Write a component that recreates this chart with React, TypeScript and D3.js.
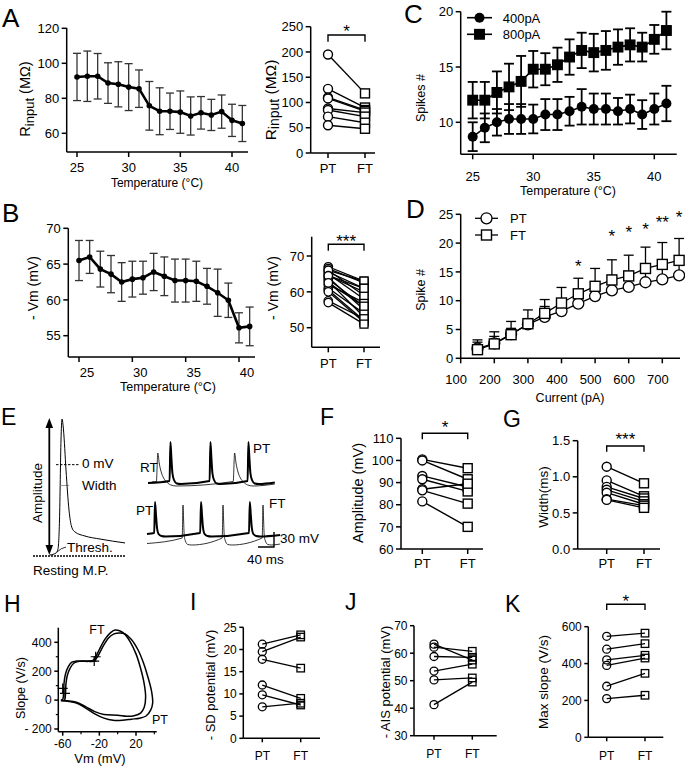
import React from "react";
import * as d3 from "d3";

const FONT = "'Liberation Sans', Arial, Helvetica, sans-serif";

// ---------- Panel A ----------
const tempA = [25, 26, 27, 28, 29, 30, 31, 32, 33, 34, 35, 36, 37, 38, 39, 40, 41];
const tempTicks = [25, 30, 35, 40];
const rinMean = [92.2, 92.6, 92.6, 88.7, 88.0, 86.4, 85.5, 75.7, 72.6, 72.6, 72.1, 69.9, 71.7, 70.5, 72.4, 67.4, 65.6];
const rinErr = [13.5, 14.4, 13, 11.6, 12.9, 13.4, 10.7, 13.9, 13.4, 10.4, 12.1, 10.9, 9.3, 8.9, 9.5, 9.2, 10.3];
const rinTicks = [60, 80, 100, 120];
const rinPT = [195, 127, 110, 108, 88, 85, 72, 55];
const rinFT = [118, 90, 85, 83, 80, 72, 60, 48];
const rinPairTicks = [0, 50, 100, 150, 200, 250];

// ---------- Panel B ----------
const vmMean = [65.5, 66.0, 64.3, 63.6, 62.5, 62.9, 63.1, 63.9, 63.3, 62.7, 62.7, 62.6, 61.9, 61.0, 59.95, 56.1, 56.3];
const vmErr = [2.8, 2.3, 2.5, 2.6, 2.7, 2.5, 2.3, 2.6, 2.7, 3.0, 3.0, 2.8, 2.5, 3.3, 2.4, 2.1, 2.7];
const vmTicks = [55, 60, 65, 70];
const vmPT = [67, 66.5, 66, 65.5, 65, 64.5, 64, 63.5, 63, 62, 61, 60.5, 60, 57.5, 57, 66, 64.5, 62.5];
const vmFT = [63, 62.5, 63, 61, 58, 60, 55, 56, 53, 57, 54, 52, 51.5, 52.5, 51, 59, 61, 56];
const vmPairTicks = [50, 60, 70];

// ---------- Panel C ----------
const spikes400 = [8.7, 9.5, 10.0, 10.3, 10.3, 10.3, 10.7, 10.7, 11.0, 11.4, 11.2, 11.2, 11.0, 11.2, 10.7, 11.2, 11.7];
const spikes400Err = [1.3, 1.3, 1.2, 1.35, 1.35, 1.3, 1.4, 1.4, 1.3, 1.6, 1.4, 1.4, 1.2, 1.3, 1.3, 1.4, 1.6];
const spikes800 = [12.0, 12.0, 12.7, 13.2, 13.7, 14.8, 14.8, 15.2, 15.9, 16.5, 16.3, 16.5, 16.8, 17.0, 16.8, 17.5, 18.3];
const spikes800Err = [1.65, 1.65, 1.9, 2.1, 2.3, 1.65, 1.45, 1.55, 1.6, 1.6, 1.7, 1.75, 1.6, 1.5, 1.3, 1.3, 1.7];
const spikeTicks = [10, 15, 20];

// ---------- Panel D ----------
const currents = [150, 200, 250, 300, 350, 400, 450, 500, 550, 600, 650, 700, 750];
const currentTicks = [100, 200, 300, 400, 500, 600, 700];
const dPT = [1.7, 2.6, 4.2, 5.9, 7.2, 8.2, 9.5, 10.8, 11.8, 12.4, 13.2, 13.7, 14.4];
const dPTErr = [1.1, 1.2, 1.0, 1.0, 1.8, 2.0, 2.2, 2.4, 2.6, 2.7, 2.8, 2.9, 3.0];
const dFT = [1.5, 2.5, 4.1, 6.0, 7.8, 9.6, 11.2, 12.5, 13.6, 14.3, 15.6, 16.3, 17.0];
const dFTErr = [1.7, 2.1, 2.3, 2.4, 2.4, 2.7, 2.7, 3.1, 3.5, 3.6, 3.7, 3.8, 3.8];
const dTicks = [0, 5, 10, 15, 20, 25];
const dStarCurrents = [450, 550, 600, 650, 700, 750];
const dStarLabels = ["*", "*", "*", "*", "**", "*"];
const dStarValues = [16.6, 21.9, 22.6, 23.1, 24.2, 25.1];

// ---------- Panel E (trace templates, ms / mV) ----------
const eApT = [0, 6, 8, 9.5, 11, 12, 13.5, 16, 19, 21.7, 25, 35, 50, 75];
const eApV = [-69.2, -67.7, -64.6, -42.4, 18.9, 35, 26.6, -4.1, -34.8, -47.8, -51.6, -54.7, -57, -60];
const topThickT = [0, 2, 4.5, 7, 11, 18, 28];
const topThickV = [-56, 22, -10, -40, -54, -61, -62];
const topThickOnsets = [54, 154, 249];
const topThinT = [0, 3.5, 7, 12, 18, 26, 36, 50];
const topThinV = [-57, 0, -20, -38, -50, -58, -64, -66];
const topThinOnsets = [21, 213];
const botThickT = [0, 2, 4.5, 7, 11, 18, 28];
const botThickV = [-46, 16, -10, -35, -48, -52, -53];
const botThickOnsets = [18, 133, 255];
const botThinT = [0, 2, 3.5, 5, 8, 14, 24];
const botThinV = [-56, 10, -20, -50, -62, -69, -70];
const botThinOnsets = [88, 188, 288];

// ---------- Panel F / G ----------
const ampPT = [100.5, 100, 93, 91.5, 87, 86.5, 81.5];
const ampFT = [96.5, 91.5, 88, 86, 89.5, 80.5, 70];
const ampTicks = [60, 70, 80, 90, 100, 110];
const widthPT = [1.14, 0.95, 0.86, 0.82, 0.78, 0.69, 0.68];
const widthFT = [0.91, 0.73, 0.7, 0.66, 0.62, 0.6, 0.57];
const widthTicks = [0, 0.5, 1.0, 1.5];

// ---------- Panel H (phase plots: Vm mV, slope V/s) ----------
const hFTVm = [-62, -60, -59, -58.5, -57, -54, -50, -45, -35, -27, -24, -20, -14, -8, -3, 2, 8, 14, 20, 25, 29, 30.5, 29, 25, 18, 10, 0, -15, -25, -35, -45, -55, -62];
const hFTSlope = [0, 5, 50, 120, 180, 230, 262, 270, 270, 275, 300, 350, 420, 465, 485, 480, 455, 400, 320, 220, 110, 20, -50, -90, -108, -112, -105, -100, -80, -45, -15, -5, -2];
const hPTVm = [-62, -58, -57, -56.5, -55, -52, -48, -42, -32, -26, -22, -17, -10, -4, 2.5, 8, 15, 22, 28, 33, 37, 38.2, 36, 31, 24, 15, 5, -5, -15, -25, -35, -45, -55, -62];
const hPTSlope = [-3, 0, 40, 110, 170, 220, 255, 268, 268, 270, 300, 360, 430, 458, 464, 458, 420, 350, 260, 160, 60, -20, -70, -110, -125, -132, -140, -140, -125, -95, -55, -20, -8, -3];
const hCrossVm = [-60, -57.5, -24, -25.6];
const hCrossSlope = [81, 46, 300, 270];
const hYTicks = [-200, 0, 200, 400];
const hYMinor = [-100, 100, 300];
const hXTicks = [-60, -20, 20];
const hXMinor = [-40, 0, 40];

// ---------- Panel I / J / K ----------
const sdPT = [21.2, 19.5, 17.8, 12, 9.8, 7.1];
const sdFT = [23.3, 22.8, 15.8, 9, 7.5, 7.9];
const sdTicks = [0, 5, 10, 15, 20, 25];
const aisPT = [63.3, 62.2, 58.8, 53.5, 50.3, 41.3];
const aisFT = [57.5, 60.7, 58.5, 56, 51, 49.5];
const aisTicks = [30, 40, 50, 60, 70];
const msPT = [548, 478, 420, 390, 277, 210];
const msFT = [565, 508, 445, 430, 347, 228];
const msTicks = [0, 200, 400, 600];

// ================= helpers =================
function YAxis({ x, top, bottom, scale, ticks, fmt, fs = 13, tick = 5, sw = 1.5 }: any) {
  return (
    <g>
      <line x1={x} x2={x} y1={top} y2={bottom} stroke="#000" strokeWidth={sw} />
      {ticks.map((t: number) => (
        <g key={t}>
          <line x1={x - tick} x2={x} y1={scale(t)} y2={scale(t)} stroke="#000" strokeWidth={sw} />
          <text x={x - tick - 2.5} y={scale(t) + fs * 0.36} textAnchor="end" fontSize={fs}>
            {fmt ? fmt(t) : String(t)}
          </text>
        </g>
      ))}
    </g>
  );
}

function XAxis({ y, left, right, positions, labels, fs = 13, tick = 5, labelY, sw = 1.5, dx = 0 }: any) {
  return (
    <g>
      <line x1={left} x2={right} y1={y} y2={y} stroke="#000" strokeWidth={sw} />
      {positions.map((p: number, i: number) => (
        <g key={i}>
          <line x1={p} x2={p} y1={y} y2={y + tick} stroke="#000" strokeWidth={sw} />
          <text x={p + dx} y={labelY} textAnchor="middle" fontSize={fs}>
            {labels[i]}
          </text>
        </g>
      ))}
    </g>
  );
}

function YTitle({ x, y, children, fs = 13 }: any) {
  return (
    <text transform={`translate(${x},${y}) rotate(-90)`} textAnchor="middle" dominantBaseline="central" fontSize={fs}>
      {children}
    </text>
  );
}

function ErrBars({ xs, means, errs, xs2, y, cap = 8, color = "#000", sw = 1.3, upOnly = false }: any) {
  return (
    <g stroke={color} strokeWidth={sw}>
      {means.map((m: number, i: number) => {
        const x = xs2(xs[i]);
        const hi = y(m + errs[i]);
        const lo = upOnly ? y(m) : y(m - errs[i]);
        return (
          <g key={i}>
            <line x1={x} x2={x} y1={hi} y2={lo} />
            <line x1={x - cap / 2} x2={x + cap / 2} y1={hi} y2={hi} />
            {!upOnly && <line x1={x - cap / 2} x2={x + cap / 2} y1={lo} y2={lo} />}
          </g>
        );
      })}
    </g>
  );
}

function Paired({ y, xPT, xFT, pt, ft, r = 4.5, sq = 9, sw = 1.4, fill = "#fff" }: any) {
  return (
    <g>
      {pt.map((v: number, i: number) => (
        <line key={"l" + i} x1={xPT} y1={y(v)} x2={xFT} y2={y(ft[i])} stroke="#000" strokeWidth={sw} />
      ))}
      {pt.map((v: number, i: number) => (
        <circle key={"c" + i} cx={xPT} cy={y(v)} r={r} fill={fill} stroke="#000" strokeWidth={sw} />
      ))}
      {ft.map((v: number, i: number) => (
        <rect key={"s" + i} x={xFT - sq / 2} y={y(v) - sq / 2} width={sq} height={sq} fill={fill} stroke="#000" strokeWidth={sw} />
      ))}
    </g>
  );
}

function Bracket({ x1, x2, top, leg, label, starY, fs = 17 }: any) {
  return (
    <g>
      <path d={`M${x1},${leg}V${top}H${x2}V${leg}`} fill="none" stroke="#000" strokeWidth={1.4} />
      <text x={(x1 + x2) / 2} y={starY + fs * 0.57} textAnchor="middle" fontSize={fs}>
        {label}
      </text>
    </g>
  );
}

function Letter({ x, y, t, fs = 26 }: any) {
  return (
    <text x={x} y={y} fontSize={fs}>
      {t}
    </text>
  );
}

function buildTrain(startT: number, startV: number, onsets: number[], tT: number[], tV: number[], endT: number, endV: number) {
  const pts: [number, number][] = [[startT, startV]];
  onsets.forEach((o) => tT.forEach((t, i) => pts.push([o + t, tV[i]])));
  pts.push([endT, endV]);
  return pts;
}

// ================= App =================
export default function App() {
  const xA = d3.scaleLinear().domain([25, 40]).range([77, 232]);
  const yA = d3.scaleLinear().domain([60, 120]).range([133.3, 28.3]);
  const yAr = d3.scaleLinear().domain([0, 250]).range([153, 26.7]);
  const lineA = d3.line<number>().x((_, i) => xA(tempA[i])).y((d) => yA(d));

  const xB = d3.scaleLinear().domain([25, 40]).range([79, 239]);
  const yB = d3.scaleLinear().domain([55, 70]).range([335.7, 228.3]);
  const yBr = d3.scaleLinear().domain([50, 70]).range([327.7, 256]);
  const lineB = d3.line<number>().x((_, i) => xB(tempA[i])).y((d) => yB(d));

  const xC = d3.scaleLinear().domain([25, 40]).range([472.7, 654.3]);
  const yC = d3.scaleLinear().domain([10, 20]).range([122.3, 11.7]);
  const lineC = d3.line<number>().x((_, i) => xC(tempA[i])).y((d) => yC(d));

  const xD = d3.scaleLinear().domain([100, 700]).range([460.7, 662.3]);
  const yD = d3.scaleLinear().domain([0, 25]).range([358.3, 214.3]);
  const lineD = d3.line<number>().x((_, i) => xD(currents[i])).y((d) => yD(d));

  const xE = d3.scaleLinear().domain([0, 75]).range([50, 125]);
  const yE = d3.scaleLinear().domain([-70, 35]).range([556, 419]);
  const apPts = eApT.map((t, i) => [t, eApV[i]] as [number, number]);
  const lineE = d3.line<[number, number]>().x((d) => xE(d[0])).y((d) => yE(d[1])).curve(d3.curveMonotoneX);
  const xTop = d3.scaleLinear().domain([0, 100]).range([148, 188]);
  const yTop = d3.scaleLinear().domain([-60, 0]).range([483, 453]);
  const xBot = d3.scaleLinear().domain([0, 100]).range([147, 187]);
  const yBot = d3.scaleLinear().domain([-60, 0]).range([540, 510]);
  const lineTop = d3.line<[number, number]>().x((d) => xTop(d[0])).y((d) => yTop(d[1])).curve(d3.curveMonotoneX);
  const lineBot = d3.line<[number, number]>().x((d) => xBot(d[0])).y((d) => yBot(d[1])).curve(d3.curveMonotoneX);
  const topThick = buildTrain(0, -60, topThickOnsets, topThickT, topThickV, 317, -59);
  const topThin = buildTrain(10, -58, topThinOnsets, topThinT, topThinV, 317, -62);
  const botThick = buildTrain(0, -48, botThickOnsets, botThickT, botThickV, 333, -50);
  const botThin = buildTrain(0, -67, botThinOnsets, botThinT, botThinV, 333, -68);

  const yF = d3.scaleLinear().domain([60, 110]).range([549, 438.3]);
  const yG = d3.scaleLinear().domain([0, 1.5]).range([549, 440.7]);

  const xH = d3.scaleLinear().domain([-60, 20]).range([62.7, 136]);
  const yH = d3.scaleLinear().domain([-200, 400]).range([729, 642.3]);
  const lineH = d3.line<[number, number]>().x((d) => xH(d[0])).y((d) => yH(d[1])).curve(d3.curveCatmullRom.alpha(0.5));
  const ftLoop = hFTVm.map((v, i) => [v, hFTSlope[i]] as [number, number]);
  const ptLoop = hPTVm.map((v, i) => [v, hPTSlope[i]] as [number, number]);

  const yI = d3.scaleLinear().domain([0, 25]).range([738.3, 627.3]);
  const yJ = d3.scaleLinear().domain([30, 70]).range([735.7, 625.7]);
  const yK = d3.scaleLinear().domain([0, 600]).range([737.3, 626.7]);

  const sq = (x: number, y: number, s: number, fill: string, key: any) => (
    <rect key={key} x={x - s / 2} y={y - s / 2} width={s} height={s} fill={fill} stroke="#000" strokeWidth={1.4} />
  );

  return (
    <svg
      width={685}
      height={768}
      viewBox="0 0 685 768"
      style={{ position: "absolute", left: 0, top: 0, background: "#fff", fontFamily: FONT }}
      fill="#000"
    >
      <rect x={0} y={0} width={685} height={768} fill="#fff" />

      {/* ---------- A ---------- */}
      <Letter x={2} y={27} t="A" />
      <YAxis x={66.7} top={28} bottom={152} scale={yA} ticks={rinTicks} />
      <XAxis y={152} left={66.7} right={248} positions={tempTicks.map((t) => xA(t))} labels={tempTicks} labelY={171.5} />
      <text x={157} y={187} textAnchor="middle" fontSize={12}>Temperature (°C)</text>
      <YTitle x={25} y={99} fs={14.5}>
        R<tspan dy={3.5} fontSize={13}>input</tspan>
        <tspan dy={-3.5}> (MΩ)</tspan>
      </YTitle>
      <ErrBars xs={tempA} means={rinMean} errs={rinErr} xs2={xA} y={yA} cap={8} color="#333" sw={1.3} />
      <path d={lineA(rinMean) || ""} fill="none" stroke="#000" strokeWidth={2.6} />
      {rinMean.map((m, i) => (
        <circle key={i} cx={xA(tempA[i])} cy={yA(m)} r={2.8} fill="#000" />
      ))}

      <YAxis x={310.7} top={26.7} bottom={153} scale={yAr} ticks={rinPairTicks} />
      <XAxis y={153} left={310.7} right={375} positions={[328, 365]} labels={["PT", "FT"]} labelY={172.5} />
      <YTitle x={270} y={100} fs={15.5}>
        R<tspan dy={3.5} fontSize={14}>input</tspan>
        <tspan dy={-3.5}> (MΩ)</tspan>
      </YTitle>
      <Paired y={yAr} xPT={328} xFT={365} pt={rinPT} ft={rinFT} />
      <Bracket x1={328} x2={365} top={35} leg={41.7} label="*" starY={27} />

      {/* ---------- C ---------- */}
      <Letter x={404} y={23} t="C" />
      <YAxis x={460.7} top={11.7} bottom={154.3} scale={yC} ticks={spikeTicks} />
      <XAxis y={154.3} left={460.7} right={676.7} positions={tempTicks.map((t) => xC(t))} labels={tempTicks} labelY={180.5} />
      <text x={568} y={195} textAnchor="middle" fontSize={12.5}>Temperature (°C)</text>
      <YTitle x={421} y={98} fs={12.5}>Spikes #</YTitle>
      <ErrBars xs={tempA} means={spikes800} errs={spikes800Err} xs2={xC} y={yC} cap={10} sw={1.8} />
      <ErrBars xs={tempA} means={spikes400} errs={spikes400Err} xs2={xC} y={yC} cap={10} sw={1.8} />
      <path d={lineC(spikes800) || ""} fill="none" stroke="#000" strokeWidth={1.6} />
      <path d={lineC(spikes400) || ""} fill="none" stroke="#000" strokeWidth={1.6} />
      {spikes800.map((m, i) => sq(xC(tempA[i]), yC(m), 9.5, "#000", "c8" + i))}
      {spikes400.map((m, i) => (
        <circle key={"c4" + i} cx={xC(tempA[i])} cy={yC(m)} r={5} fill="#000" />
      ))}
      <line x1={467} x2={492} y1={17.7} y2={17.7} stroke="#000" strokeWidth={1.6} />
      <circle cx={479.5} cy={17.7} r={5} fill="#000" />
      <text x={502.7} y={22.5} fontSize={13}>400pA</text>
      <line x1={467} x2={492} y1={34.3} y2={34.3} stroke="#000" strokeWidth={1.6} />
      {sq(479.5, 34.3, 9.5, "#000", "legsq")}
      <text x={502.7} y={39.1} fontSize={13}>800pA</text>

      {/* ---------- B ---------- */}
      <Letter x={2} y={222} t="B" />
      <YAxis x={68.3} top={228.3} bottom={357} scale={yB} ticks={vmTicks} />
      <XAxis y={357} left={68.3} right={255} positions={tempTicks.map((t) => xB(t))} labels={tempTicks} labelY={376.5} dx={8} />
      <text x={168} y={391} textAnchor="middle" fontSize={12.5}>Temperature (°C)</text>
      <YTitle x={33} y={288} fs={14}>- Vm (mV)</YTitle>
      <ErrBars xs={tempA} means={vmMean} errs={vmErr} xs2={xB} y={yB} cap={8} color="#333" sw={1.3} />
      <path d={lineB(vmMean) || ""} fill="none" stroke="#000" strokeWidth={2.6} />
      {vmMean.map((m, i) => (
        <circle key={i} cx={xB(tempA[i])} cy={yB(m)} r={2.8} fill="#000" />
      ))}

      <YAxis x={311.7} top={236.7} bottom={347.3} scale={yBr} ticks={vmPairTicks} />
      <XAxis y={347.3} left={311.7} right={380} positions={[328.3, 364]} labels={["PT", "FT"]} labelY={367.5} />
      <YTitle x={273} y={288} fs={14}>- Vm (mV)</YTitle>
      <Paired y={yBr} xPT={328.3} xFT={364} pt={vmPT} ft={vmFT} r={4.2} sq={8} sw={1.3} />
      <Bracket x1={328.3} x2={364} top={244.3} leg={250.7} label="***" starY={237.7} />

      {/* ---------- D ---------- */}
      <Letter x={406} y={218} t="D" />
      <YAxis x={460.7} top={214.3} bottom={358.3} scale={yD} ticks={dTicks} />
      <XAxis y={358.3} left={460.7} right={680} positions={currentTicks.map((t) => xD(t))} labels={currentTicks} labelY={383.5} dx={-4.5} />
      <text x={570} y={402} textAnchor="middle" fontSize={12.5}>Current  (pA)</text>
      <YTitle x={421} y={290} fs={12.5}>Spike #</YTitle>
      <ErrBars xs={currents} means={dPT} errs={dPTErr} xs2={xD} y={yD} cap={10} sw={1.3} upOnly />
      <ErrBars xs={currents} means={dFT} errs={dFTErr} xs2={xD} y={yD} cap={10} sw={1.3} upOnly />
      <path d={lineD(dPT) || ""} fill="none" stroke="#000" strokeWidth={1.3} />
      <path d={lineD(dFT) || ""} fill="none" stroke="#000" strokeWidth={1.3} />
      {dPT.map((m, i) => (
        <circle key={"dp" + i} cx={xD(currents[i])} cy={yD(m)} r={5.5} fill="#fff" stroke="#000" strokeWidth={1.3} />
      ))}
      {dFT.map((m, i) => sq(xD(currents[i]), yD(m), 10, "#fff", "df" + i))}
      {dStarCurrents.map((c, i) => (
        <text key={"ds" + i} x={xD(c)} y={yD(dStarValues[i]) + 9.5} textAnchor="middle" fontSize={17}>
          {dStarLabels[i]}
        </text>
      ))}
      <line x1={475} x2={498} y1={218.3} y2={218.3} stroke="#000" strokeWidth={1.3} />
      <circle cx={486.5} cy={218.3} r={5.5} fill="#fff" stroke="#000" strokeWidth={1.3} />
      <text x={510} y={223} fontSize={13}>PT</text>
      <line x1={475} x2={498} y1={235} y2={235} stroke="#000" strokeWidth={1.3} />
      {sq(486.5, 235, 10, "#fff", "dleg")}
      <text x={510} y={239.7} fontSize={13}>FT</text>

      {/* ---------- E ---------- */}
      <Letter x={1} y={425} t="E" fs={23} />
      <line x1={49.3} x2={49.3} y1={426} y2={547} stroke="#000" strokeWidth={1.8} />
      <path d="M49.3,418 L45.5,428 L53.1,428 Z" fill="#000" />
      <path d="M49.3,555 L45.5,545 L53.1,545 Z" fill="#000" />
      <YTitle x={37} y={493} fs={13.5}>Amplitude</YTitle>
      <line x1={33} x2={125} y1={556} y2={556} stroke="#000" strokeWidth={1.3} strokeDasharray="2,1" />
      <path d={lineE(apPts) || ""} fill="none" stroke="#000" strokeWidth={1} />
      <line x1={56} x2={79} y1={yE(0)} y2={yE(0)} stroke="#000" strokeWidth={1} strokeDasharray="2.5,1.5" />
      <text x={82} y={468} fontSize={13.5}>0 mV</text>
      <line x1={61.5} x2={68.5} y1={485.5} y2={485.5} stroke="#000" strokeWidth={0.8} strokeDasharray="1,1" />
      <text x={82} y={489.5} fontSize={13.5}>Width</text>
      <path d="M57,552 Q61,548 66,547" fill="none" stroke="#000" strokeWidth={0.8} />
      <text x={67} y={552} fontSize={13.5}>Thresh.</text>
      <text x={33} y={575} fontSize={13.5}>Resting M.P.</text>

      <path d={lineTop(topThin) || ""} fill="none" stroke="#000" strokeWidth={0.8} />
      <path d={lineTop(topThick) || ""} fill="none" stroke="#000" strokeWidth={2} />
      <path d={lineBot(botThin) || ""} fill="none" stroke="#000" strokeWidth={0.8} />
      <path d={lineBot(botThick) || ""} fill="none" stroke="#000" strokeWidth={2} />
      <text x={140} y={471.5} fontSize={13.5}>RT</text>
      <text x={253} y={452.5} fontSize={13.5}>PT</text>
      <text x={136} y={514.5} fontSize={13.5}>PT</text>
      <text x={269} y={507.5} fontSize={13.5}>FT</text>
      <path d="M274,532 V547 H258" fill="none" stroke="#000" strokeWidth={1.4} />
      <text x={280} y={543} fontSize={13.5}>30 mV</text>
      <text x={247} y={564} fontSize={13.5}>40 ms</text>

      {/* ---------- F ---------- */}
      <Letter x={320} y={425} t="F" fs={23} />
      <YAxis x={401} top={438.3} bottom={549} scale={yF} ticks={ampTicks} />
      <XAxis y={549} left={401} right={483} positions={[422.3, 467.7]} labels={["PT", "FT"]} labelY={568} />
      <YTitle x={358} y={493} fs={14.5}>Amplitude (mV)</YTitle>
      <Paired y={yF} xPT={422.3} xFT={467.7} pt={ampPT} ft={ampFT} />
      <Bracket x1={422.3} x2={467.7} top={433.3} leg={439.3} label="*" starY={423} />

      {/* ---------- G ---------- */}
      <Letter x={503} y={427} t="G" fs={23} />
      <YAxis x={577.7} top={440.7} bottom={549} scale={yG} ticks={widthTicks} fmt={(t: number) => t.toFixed(1)} />
      <XAxis y={549} left={577.7} right={660} positions={[606.7, 644]} labels={["PT", "FT"]} labelY={568} />
      <YTitle x={543.3} y={497} fs={13.5}>Width(ms)</YTitle>
      <Paired y={yG} xPT={606.7} xFT={644} pt={widthPT} ft={widthFT} />
      <Bracket x1={606.7} x2={644} top={446} leg={451.7} label="***" starY={435} />

      {/* ---------- H ---------- */}
      <Letter x={4} y={612} t="H" fs={23} />
      <YAxis x={58.3} top={627.7} bottom={731.7} scale={yH} ticks={hYTicks} fs={12} tick={4}
        fmt={(t: number) => (t < 0 ? "- " + -t : String(t))} />
      {hYMinor.map((t) => (
        <line key={t} x1={55.8} x2={58.3} y1={yH(t)} y2={yH(t)} stroke="#000" strokeWidth={1.2} />
      ))}
      <XAxis y={731.7} left={58.3} right={156.7} positions={hXTicks.map((t) => xH(t))} labels={hXTicks} fs={12} tick={4} labelY={747.5} />
      {hXMinor.map((t) => (
        <line key={t} x1={xH(t)} x2={xH(t)} y1={731.7} y2={734.2} stroke="#000" strokeWidth={1.2} />
      ))}
      <text x={100} y={762.5} textAnchor="middle" fontSize={13}>Vm (mV)</text>
      <YTitle x={20.7} y={688} fs={12.5}>Slope (V/s)</YTitle>
      <path d={lineH(ftLoop) || ""} fill="none" stroke="#000" strokeWidth={1.5} />
      <path d={lineH(ptLoop) || ""} fill="none" stroke="#000" strokeWidth={1.5} />
      {hCrossVm.map((v, i) => (
        <path key={i} d={`M${xH(v) - 5},${yH(hCrossSlope[i])}h10M${xH(v)},${yH(hCrossSlope[i]) - 5}v10`} stroke="#000" strokeWidth={1.2} />
      ))}
      <text x={97} y={634} textAnchor="middle" fontSize={12.5}>FT</text>
      <text x={160} y={724} textAnchor="middle" fontSize={12.5}>PT</text>

      {/* ---------- I ---------- */}
      <Letter x={190} y={610} t="I" fs={23} />
      <YAxis x={243.3} top={627.3} bottom={738.3} scale={yI} ticks={sdTicks} fs={12} tick={4} />
      <XAxis y={738.3} left={243.3} right={320} positions={[262.3, 300.7]} labels={["PT", "FT"]} fs={12} tick={4} labelY={759.5} />
      <YTitle x={210} y={685} fs={13}>- SD potential (mV)</YTitle>
      <Paired y={yI} xPT={262.3} xFT={300.7} pt={sdPT} ft={sdFT} r={4} sq={7.5} sw={1.3} fill="none" />

      {/* ---------- J ---------- */}
      <Letter x={345} y={610} t="J" fs={23} />
      <YAxis x={414} top={625.7} bottom={735.7} scale={yJ} ticks={aisTicks} fs={12} tick={4} />
      <XAxis y={735.7} left={414} right={496.7} positions={[434, 472.3]} labels={["PT", "FT"]} fs={12} tick={4} labelY={757.5} />
      <YTitle x={385} y={682} fs={13}>- AIS potential (mV)</YTitle>
      <Paired y={yJ} xPT={434} xFT={472.3} pt={aisPT} ft={aisFT} r={4} sq={7.5} sw={1.3} fill="none" />

      {/* ---------- K ---------- */}
      <Letter x={505} y={612} t="K" fs={23} />
      <YAxis x={588.3} top={626.7} bottom={737.3} scale={yK} ticks={msTicks} fs={12} tick={4} />
      <XAxis y={737.3} left={588.3} right={663.3} positions={[606.7, 645]} labels={["PT", "FT"]} fs={12} tick={4} labelY={759.5} />
      <YTitle x={543.3} y={682} fs={13.5}>Max slope (V/s)</YTitle>
      <Paired y={yK} xPT={606.7} xFT={645} pt={msPT} ft={msFT} r={4} sq={7.5} sw={1.3} fill="none" />
      <Bracket x1={606.7} x2={645} top={604.3} leg={610} label="*" starY={597} />
    </svg>
  );
}
